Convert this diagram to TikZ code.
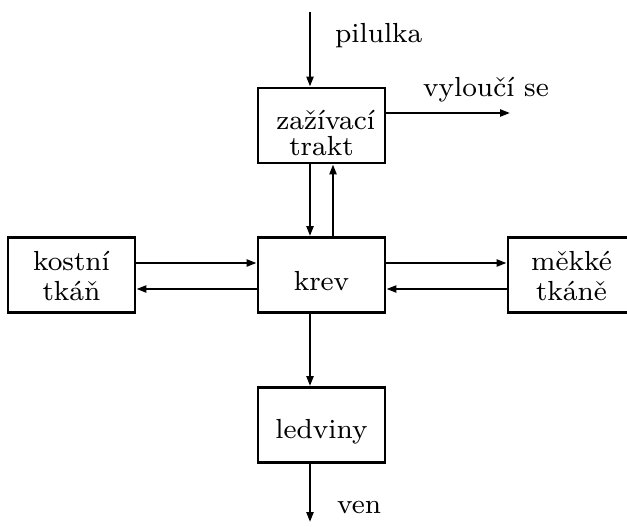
\documentclass[tikz,border=0pt]{standalone}
\usetikzlibrary{arrows.meta,calc}
\newcommand{\Tx}[2][8.7]{\scalebox{3.45}{\fontsize{8}{#1}\selectfont\begin{tabular}[t]{@{}c@{}}#2\end{tabular}}}
\newcommand{\Ts}[1]{\scalebox{3.45}{\fontsize{8}{9.6}\selectfont #1}}
\newcommand{\Dn}[2]{\raisebox{-#1}[0pt][0pt]{#2}}
\begin{document}
\begin{tikzpicture}[x=1pt,y=-1pt,
  box/.style={draw,line width=2.8pt,minimum width=127pt,minimum height=75pt,inner sep=0pt,align=center},
  lbl/.style={inner sep=0pt},
  arr/.style={line width=2.2pt,-{Triangle[length=10pt,width=7pt]}}]
\useasboundingbox (0,0) rectangle (627,527);
\node[box] (zt) at (321.5,125.5) {\Dn{4.5pt}{\Tx[6.4]{\hspace{2.4pt}za\v{z}\'{\i}vac\'{\i}\\trakt}}};
\node[box] (krev) at (321.5,275) {\Dn{15pt}{\Ts{krev}}};
\node[box] (kost) at (71.5,275) {\Dn{-5pt}{\Tx{kostn\'{\i}\\tk\'{a}\v{n}}}};
\node[box] (mek) at (571.5,275) {\Dn{-5pt}{\Tx{m\v{e}kk\'{e}\\tk\'{a}n\v{e}}}};
\node[box] (led) at (321.5,425) {\Dn{13pt}{\Ts{ledviny}}};
\coordinate (pin) at (310,12);
\coordinate (vyl) at (510,113);
\coordinate (out) at (310,522);
\node[lbl,anchor=base west] (tp) at (335,43) {\Ts{pilulka}};
\node[lbl,anchor=base west] (tv) at (423,96) {\Ts{vylou\v{c}\'{\i} se}};
\node[lbl,anchor=base west] (tven) at (337,513) {\Ts{ven}};
\draw[arr] (pin) -- (pin |- zt.north);
\draw[arr] (zt.east |- vyl) -- (vyl);
\draw[arr] ($(zt.south)+(-11.5,0)$) -- ($(krev.north)+(-11.5,0)$);
\draw[arr] ($(krev.north)+(11.5,0)$) -- ($(zt.south)+(11.5,0)$);
\draw[arr] ($(kost.east)+(0,-12)$) -- ($(krev.west)+(0,-12)$);
\draw[arr] ($(krev.west)+(0,14)$) -- ($(kost.east)+(0,14)$);
\draw[arr] ($(krev.east)+(0,-12)$) -- ($(mek.west)+(0,-12)$);
\draw[arr] ($(mek.west)+(0,14)$) -- ($(krev.east)+(0,14)$);
\draw[arr] ($(krev.south)+(-11.5,0)$) -- ($(led.north)+(-11.5,0)$);
\draw[arr] ($(led.south)+(-11.5,0)$) -- (out);
\end{tikzpicture}
\end{document}
